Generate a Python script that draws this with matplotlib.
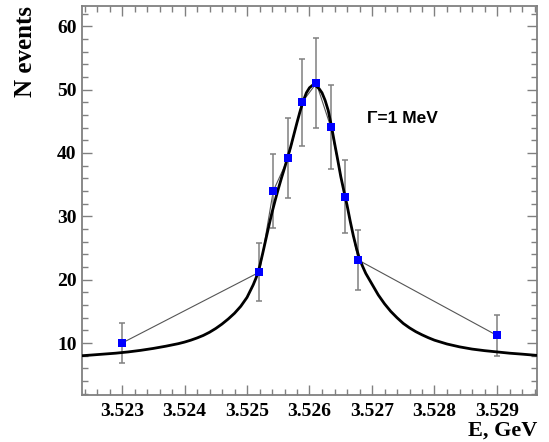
import numpy as np
import matplotlib
matplotlib.use("Agg")
import matplotlib.pyplot as plt
from matplotlib.ticker import MultipleLocator, FixedLocator

# measured points
energy = [3.5230, 3.5252, 3.52542, 3.52566, 3.52588, 3.52611, 3.52634, 3.52657, 3.52678, 3.5290]
events = [10.0, 21.2, 34.0, 39.2, 48.0, 51.0, 44.1, 33.1, 23.1, 11.2]
errors = [3.2, 4.6, 5.8, 6.3, 6.9, 7.1, 6.6, 5.8, 4.8, 3.3]

# fitted curve
curve_e = [3.52236, 3.5225, 3.5227, 3.5229, 3.5231, 3.5233, 3.5235, 3.5237, 3.5239, 3.5240,
           3.5241, 3.5242, 3.5243, 3.5244, 3.5245, 3.5246, 3.5247, 3.5248, 3.5249, 3.5250,
           3.5251, 3.52515, 3.5252, 3.52525, 3.5253, 3.52535, 3.5254, 3.52545, 3.5255, 3.52555,
           3.5256, 3.52565, 3.5257, 3.52575, 3.5258, 3.52585, 3.5259, 3.52595, 3.5260, 3.52605,
           3.5261, 3.52615, 3.5262, 3.52625, 3.5263, 3.52635, 3.5264, 3.52645, 3.5265, 3.52655,
           3.5266, 3.52665, 3.5267, 3.52675, 3.5268, 3.52685, 3.5269, 3.5270, 3.5271, 3.5272,
           3.5273, 3.5274, 3.5275, 3.5276, 3.5277, 3.5278, 3.5279, 3.5280, 3.5282, 3.5284,
           3.5286, 3.5288, 3.5290, 3.5292, 3.5294, 3.52964]
curve_n = [8.0, 8.1, 8.25, 8.4, 8.6, 8.85, 9.15, 9.5, 9.9, 10.15,
           10.45, 10.8, 11.2, 11.7, 12.3, 13.0, 13.8, 14.7, 15.8, 17.2,
           19.2, 20.4, 22.0, 24.1, 26.3, 28.5, 30.6, 32.5, 34.3, 36.0,
           37.6, 39.3, 41.0, 42.9, 44.8, 46.6, 48.2, 49.5, 50.3, 50.7,
           50.6, 50.2, 49.5, 48.3, 46.7, 44.3, 41.6, 39.0, 36.3, 34.0,
           31.8, 29.3, 27.0, 25.0, 23.3, 22.1, 21.0, 19.3, 17.6, 16.2,
           15.0, 14.0, 13.1, 12.4, 11.8, 11.3, 10.85, 10.45, 9.85, 9.4,
           9.05, 8.8, 8.6, 8.4, 8.25, 8.05]

xticks = [3.523, 3.524, 3.525, 3.526, 3.527, 3.528, 3.529]
xtick_labels = ["3.523", "3.524", "3.525", "3.526", "3.527", "3.528", "3.529"]
yticks = [10, 20, 30, 40, 50, 60]

fig = plt.figure(figsize=(5.49, 4.42), dpi=100)
ax = fig.add_axes([82/549, 1-395/442, 455/549, 389/442])

frame_col = "#808080"
serif = ["Liberation Serif", "DejaVu Serif"]

ax.plot(energy, events, color="#555555", lw=0.8, zorder=2)
ax.errorbar(energy, events, yerr=errors, fmt="none", ecolor="#808080",
            elinewidth=1.1, capsize=2.5, capthick=1.1, zorder=3)
ax.plot(curve_e, curve_n, color="black", lw=2.0, zorder=4,
        solid_joinstyle="round", solid_capstyle="round")
ax.plot(energy, events, ls="none", marker="s", ms=5.8, color="#0000ff",
        markeredgewidth=0, zorder=5)

ax.set_xlim(3.52236, 3.52964)
ax.set_ylim(1.8, 63.2)

ax.xaxis.set_major_locator(FixedLocator(xticks))
ax.set_xticklabels(xtick_labels)
ax.xaxis.set_minor_locator(MultipleLocator(0.0002))
ax.yaxis.set_major_locator(FixedLocator(yticks))
ax.yaxis.set_minor_locator(MultipleLocator(2))

ax.tick_params(which="both", direction="in", top=True, right=True, colors=frame_col,
               labelcolor="black", width=1.0)
ax.tick_params(which="major", length=7)
ax.tick_params(which="minor", length=4)
ax.tick_params(axis="x", which="major", pad=6)
ax.tick_params(axis="y", which="major", pad=4)
for lab in ax.get_xticklabels() + ax.get_yticklabels():
    lab.set_fontfamily(serif)
    lab.set_fontweight("bold")
    lab.set_fontsize(14)

for sp in ax.spines.values():
    sp.set_color(frame_col)
    sp.set_linewidth(1.3)

ax.set_ylabel("N events", fontfamily=serif, fontweight="bold", fontsize=18, loc="top")
ax.yaxis.set_label_coords(-0.099, 1.0)
ax.set_xlabel("E, GeV", fontfamily=serif, fontweight="bold", fontsize=16, loc="right",
              va="center")
ax.xaxis.set_label_coords(1.0, -0.092)

ax.text(3.52692, 45.5, "\u0393=1 MeV", fontfamily=["Liberation Sans", "DejaVu Sans"],
        fontweight="bold", fontsize=12.5, va="center", ha="left")

fig.savefig("out.png", dpi=100)
